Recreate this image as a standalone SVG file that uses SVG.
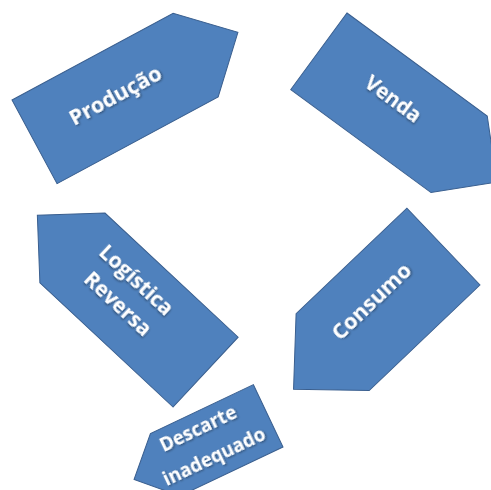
<svg xmlns="http://www.w3.org/2000/svg" width="491" height="490" viewBox="0 0 491 490">
  <defs>
    <filter id="txtShadow" x="-20%" y="-40%" width="140%" height="180%">
      <feDropShadow dx="1" dy="1.2" stdDeviation="0.9" flood-color="#000" flood-opacity="0.45"/>
    </filter>
  </defs>
  <style>
    .plate { fill: #4F81BD; stroke: #3A5F8F; stroke-width: 1; }
    .lbl { fill: #ffffff; font-family: "Open Sans", "Noto Sans", "DejaVu Sans", sans-serif; font-weight: 700; text-anchor: middle; filter: url(#txtShadow); }
  </style>
  <rect width="491" height="490" fill="#ffffff"/>

  <g id="producao">
    <polygon class="plate" transform="translate(12,100) rotate(-28.3)" points="0,0 183,0 231,47.5 183,95 0,95"/>
    <text class="lbl" transform="translate(115,95) rotate(-28.3)" font-size="21.5" y="7.5">Produção</text>
  </g>

  <g id="venda">
    <polygon class="plate" transform="translate(347,13) rotate(36.3)" points="0,0 174,0 221,47.5 174,95 0,95"/>
    <text class="lbl" transform="translate(393,99) rotate(36.3)" font-size="20.5" y="7">Venda</text>
  </g>

  <g id="consumo">
    <polygon class="plate" transform="translate(480,285) rotate(136.4)" points="0,0 153,0 207,53 153,106 0,106"/>
    <text class="lbl" transform="translate(371,301) rotate(-43.6)" font-size="21.5" y="7.5">Consumo</text>
  </g>

  <g id="logistica-reversa">
    <polygon class="plate" transform="translate(173,407) rotate(-137)" points="0,0 182,0 230,47.75 182,95.5 0,95.5"/>
    <text class="lbl" transform="translate(128,293) rotate(43)" font-size="21">
      <tspan x="0" y="-8">Logística</tspan>
      <tspan x="0" y="22">Reversa</tspan>
    </text>
  </g>

  <g id="descarte-inadequado">
    <polygon class="plate" transform="translate(283,447) rotate(154.6)" points="0,0 114,0 148.5,34.5 114,69 0,69"/>
    <text class="lbl" transform="translate(210,448) rotate(-25.4)" font-size="18.7">
      <tspan x="0" y="-16">Descarte</tspan>
      <tspan x="0" y="16">inadequado</tspan>
    </text>
  </g>

  <g id="connectors"></g>
</svg>
